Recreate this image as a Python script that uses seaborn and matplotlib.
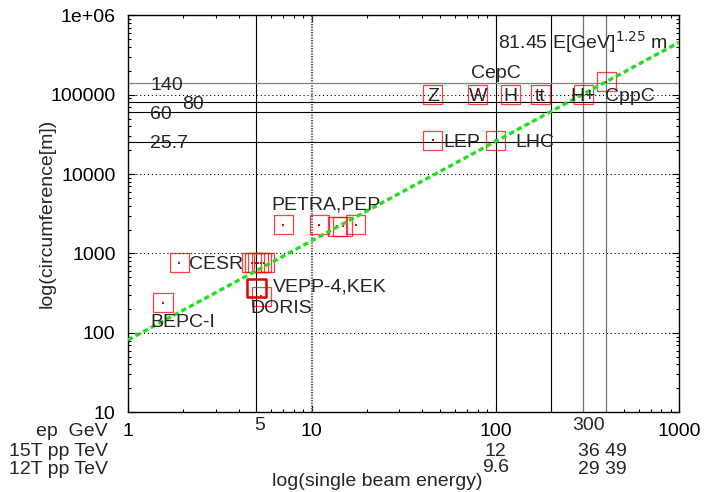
import matplotlib
matplotlib.use("Agg")
import matplotlib.pyplot as plt
import matplotlib.transforms as mtransforms
from matplotlib.ticker import FixedLocator, NullFormatter
import pandas as pd
import seaborn as sns

# single beam energy [GeV] and circumference [m]
bepc_e = [1.55]
bepc_c = [240]
cesr_e = [1.9, 4.7, 4.9, 5.1, 5.3, 5.5]
cesr_c = [768, 768, 768, 768, 768, 768]
vepp_e = [5.0]
vepp_c = [366]
doris_e = [5.3]
doris_c = [288]
petra_e = [7.0, 11.0, 17.3]
petra_c = [2304, 2304, 2304]
pep_e = [13.8, 14.7]
pep_c = [2200, 2200]
lep_e = [45.6]
lep_c = [26700]
lhc_e = [100]
lhc_c = [26700]
cepc_e = [45.6, 80, 120, 175, 300]
cepc_c = [100000, 100000, 100000, 100000, 100000]
cepc_names = ["Z", "W", "H", "tt", "H+"]
cppc_e = [400]
cppc_c = [145000]

# fit 81.45 E^1.25 (straight line on log-log, end points)
fit_e = [1, 1000]
fit_c = [81.45, 458000]

# reference lines
vlines_black = [5, 100, 200]
vlines_gray = [300, 400]
hlines_black = [80000, 60000, 25700]
hlines_gray = [140000]
hline_labels = [("140", 1.33, 140000), ("80", 1.98, 80000), ("60", 1.32, 60000), ("25.7", 1.32, 25700)]

xticks = [1, 10, 100, 1000]
yticks = [10, 100, 1000, 10000, 100000, 1000000]
ytick_labels = ["10", "100", "1000", "10000", "100000", "1e+06"]

sns.set_style("ticks")
plt.rcParams["font.family"] = ["Liberation Sans", "DejaVu Sans"]
plt.rcParams["font.size"] = 14

W, H = 706, 492
fig = plt.figure(figsize=(W / 100, H / 100), dpi=100)
ax = fig.add_axes([128 / W, 1 - 412.3 / H, 551.3 / W, 397 / H])
ax.set_xscale("log")
ax.set_yscale("log")
ax.set_xlim(1, 1000)
ax.set_ylim(10, 1e6)

# dotted grid at major ticks (x=100 is covered by a solid line)
ax.axvline(10, color="0.4", lw=1.6, ls=(0, (0.6, 0.6)), zorder=1)
for y in [100, 1000, 10000, 100000]:
    ax.axhline(y, color="black", lw=0.8, ls=(0, (1, 2.5)), zorder=1)

for x in vlines_black:
    ax.axvline(x, color="black", lw=0.8, zorder=1)
for x in vlines_gray:
    ax.axvline(x, color="0.45", lw=0.9, zorder=1)
for y in hlines_black:
    ax.axhline(y, color="black", lw=0.8, zorder=1)
for y in hlines_gray:
    ax.axhline(y, color="0.5", lw=0.9, zorder=1)

df = pd.DataFrame({
    "energy": bepc_e + cesr_e + doris_e + petra_e + pep_e + lep_e + lhc_e + cepc_e + cppc_e,
    "circ": bepc_c + cesr_c + doris_c + petra_c + pep_c + lep_c + lhc_c + cepc_c + cppc_c,
})

sns.scatterplot(data=df, x="energy", y="circ", marker="s", s=190,
                facecolor="none", edgecolor="red", linewidth=0.9, alpha=0.75,
                ax=ax, zorder=3)
sns.scatterplot(x=vepp_e, y=vepp_c, marker="s", s=175, facecolor="none",
                edgecolor="#e00000", linewidth=1.8, ax=ax, zorder=3)
sns.scatterplot(data=df, x="energy", y="circ", marker="s", s=1.2,
                color="red", linewidth=0, ax=ax, zorder=3)

sns.lineplot(x=fit_e, y=fit_c, color="#1ee01e", lw=2.4,
             linestyle=(0, (1.6, 1.0)), ax=ax, zorder=4)

# labels inside the plot
for txt, x, y in hline_labels:
    ax.text(x, y, txt, ha="left", va="center_baseline", zorder=5)
for name, x, y in zip(cepc_names, cepc_e, cepc_c):
    ax.text(x, y, name, ha="center", va="center_baseline", zorder=5)
ax.text(394, 100000, "CppC", ha="left", va="center_baseline", zorder=5)
ax.text(100, 161000, "CepC", ha="center", va="baseline", zorder=5)
ax.text(103, 384000, r"81.45 E[GeV]$^{1.25}$ m", ha="left", va="baseline", zorder=5)
ax.text(51.7, 26700, "LEP", ha="left", va="center_baseline", zorder=5)
ax.text(127.5, 26700, "LHC", ha="left", va="center_baseline", zorder=5)
ax.text(6.05, 4300, "PETRA,PEP", ha="left", va="center_baseline", zorder=5)
ax.text(2.15, 770, "CESR", ha="left", va="center_baseline", zorder=5)
ax.text(6.15, 400, "VEPP-4,KEK", ha="left", va="center_baseline", zorder=5)
ax.text(4.61, 214, "DORIS", ha="left", va="center_baseline", zorder=5)
ax.text(1.33, 145, "BEPC-I", ha="left", va="center_baseline", zorder=5)

# axes, ticks
ax.xaxis.set_major_locator(FixedLocator(xticks))
ax.set_xticklabels([str(t) for t in xticks])
ax.yaxis.set_major_locator(FixedLocator(yticks))
ax.set_yticklabels(ytick_labels)
minor_x = [m * 10 ** d for d in range(3) for m in range(2, 10)]
minor_y = [m * 10 ** d for d in range(1, 6) for m in range(2, 10)]
ax.xaxis.set_minor_locator(FixedLocator(minor_x))
ax.yaxis.set_minor_locator(FixedLocator(minor_y))
ax.xaxis.set_minor_formatter(NullFormatter())
ax.yaxis.set_minor_formatter(NullFormatter())
ax.tick_params(which="both", direction="in", top=True, right=True, width=0.8, colors="black")
ax.tick_params(which="major", length=5)
ax.tick_params(which="minor", length=2.5)
ax.tick_params(axis="x", which="major", pad=8)
ax.tick_params(axis="y", which="major", pad=9)
for sp in ax.spines.values():
    sp.set_color("black")
    sp.set_linewidth(1)

ax.set_ylabel("log(circumference[m])")
ax.yaxis.set_label_coords(-0.1306, 0.5)
ax.set_xlabel("log(single beam energy)", va="top")
ax.xaxis.set_label_coords(0.4517, -0.154)

# extra rows under the x axis
tr = mtransforms.blended_transform_factory(ax.transData, fig.transFigure)
def fy(py):
    return 1 - py / H

fig.text(108 / W, fy(429), "ep  GeV", ha="right", va="center_baseline")
fig.text(108 / W, fy(450), "15T pp TeV", ha="right", va="center_baseline")
fig.text(108 / W, fy(468), "12T pp TeV", ha="right", va="center_baseline")
ax.text(5.2, fy(423), "5", transform=tr, ha="center", va="center_baseline")
ax.text(320, fy(424), "300", transform=tr, ha="center", va="center_baseline")
ax.text(100, fy(450), "12", transform=tr, ha="center", va="center_baseline")
ax.text(281, fy(450), "36 49", transform=tr, ha="left", va="center_baseline")
ax.text(100, fy(466), "9.6", transform=tr, ha="center", va="center_baseline")
ax.text(281, fy(468), "29 39", transform=tr, ha="left", va="center_baseline")

fig.savefig("out.png", dpi=100, facecolor="white")
